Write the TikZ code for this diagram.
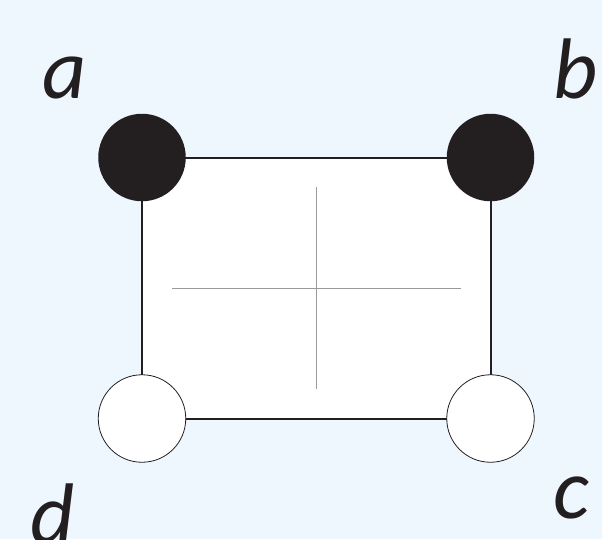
\documentclass[tikz,border=0pt]{standalone}
\usepackage{fontspec}
\setmainfont{Carlito}
\definecolor{bgblue}{HTML}{EEF7FE}
\definecolor{dotblack}{HTML}{231F20}
\definecolor{crossgrey}{HTML}{999999}
\begin{document}
\begin{tikzpicture}[x=1pt,y=-1pt,
  corner/.style={circle,minimum size=87.5pt,inner sep=0pt},
  fulldot/.style={corner,fill=dotblack},
  emptydot/.style={corner,fill=white,draw=dotblack,line width=0.8pt},
  lbl/.style={font=\fontsize{86}{90}\selectfont\itshape,text=dotblack,inner sep=0pt,anchor=base west},
  crossline/.style={draw=crossgrey,line width=0.8pt}]
\fill[bgblue] (0,0) rectangle (602,539);
\useasboundingbox (0,0) rectangle (602,539);
\coordinate (A) at (142,157.5);
\coordinate (B) at (490.5,157.5);
\coordinate (C) at (490.5,418.5);
\coordinate (D) at (142,418.5);
\draw[fill=white,draw=dotblack,line width=2pt] (A) -- (B) -- (C) -- (D) -- cycle;
\coordinate (h1) at (172,288);
\coordinate (h2) at (461,288);
\coordinate (v1) at (316.5,187);
\coordinate (v2) at (316.5,389);
\draw[crossline] (h1) -- (h2);
\draw[crossline] (v1) -- (v2);
\node[fulldot] (na) at (A) {};
\node[fulldot] (nb) at (B) {};
\node[emptydot] (nc) at (C) {};
\node[emptydot] (nd) at (D) {};
\node[lbl] (la) at (42,98) {a};
\node[lbl] (lb) at (553,98) {b};
\node[lbl] (lc) at (553,518) {c};
\node[lbl] (ld) at (30,543) {d};
\end{tikzpicture}
\end{document}
